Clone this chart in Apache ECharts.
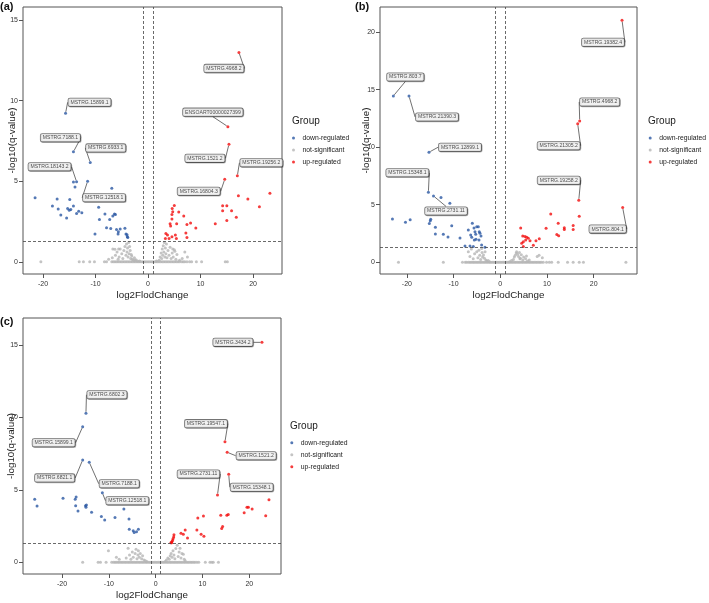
<!DOCTYPE html>
<html><head><meta charset="utf-8">
<script src="https://cdn.jsdelivr.net/npm/echarts@6/dist/echarts.min.js"></script>
<style>html,body{margin:0;padding:0;background:#fff}#c{width:709px;height:603px}</style>
</head><body><div id="c"></div>
<script>
// ---------- DATA ----------
const groups = ['down-regulated','not-significant','up-regulated'];
const xTicks = [-20,-10,0,10,20];
const aYTicks = [0,5,10,15];
const bYTicks = [0,5,10,15,20];
const cYTicks = [0,5,10,15];
const fcCut = 1;
const qCut = -Math.log10(0.05);

// panel (a)
const aDownNames = ['MSTRG.15899.1','MSTRG.7188.1','MSTRG.6933.1','MSTRG.18143.2','MSTRG.12518.1'];
const aDown = [[-15.7,9.22],[-14.2,6.83],[-11.0,6.17],[-13.6,4.97],[-11.5,5.0],
 [-14.2,4.95],[-13.9,4.64],[-6.9,4.56],[-21.5,3.98],[-17.3,3.9],[-14.9,3.86],[-18.2,3.46],[-17.1,3.27],[-16.6,2.9],
 [-15.0,3.2],[-15.3,3.3],[-14.7,3.25],[-15.5,2.72],[-14.2,3.46],[-13.6,3.0],[-13.2,3.13],[-12.6,3.05],[-9.4,3.38],
 [-9.25,2.63],[-10.1,1.72],[-8.2,2.96],[-7.9,2.11],[-7.3,2.63],[-7.1,2.06],[-6.7,2.84],[-6.4,2.97],[-6.2,2.94],
 [-6.0,2.0],[-5.65,1.86],[-5.7,1.72],[-5.3,2.04],[-4.4,2.08],[-4.2,1.73],[-4.0,1.68],[-3.95,1.55],[-3.85,1.5]];
const aUpNames = ['MSTRG.4968.2','ENSOART00000027399','MSTRG.1521.2','MSTRG.19256.2','MSTRG.16804.3'];
const aUp = [[17.3,13.0],[15.2,8.39],[15.4,7.29],[17.0,5.34],[14.6,5.12],
 [17.2,4.1],[23.2,4.25],[19.0,3.9],[14.2,3.48],[15.0,3.48],[14.2,3.17],[15.9,3.17],[21.2,3.42],[16.8,2.77],[15.0,2.56],
 [12.8,2.36],[9.1,2.09],[8.1,2.4],[7.4,2.32],[7.2,1.78],[7.4,1.5],[6.8,2.84],[5.85,3.09],[5.0,3.5],[4.6,3.3],[4.7,3.1],
 [4.55,2.94],[4.55,2.66],[5.45,2.36],[4.2,2.36],[4.3,2.22],[3.4,1.75],[3.7,1.66],[3.3,1.45],[4.0,1.45],[4.55,1.56],
 [5.2,1.66],[5.4,1.45]];
const aZeroX = [-20.4,-13.1,-12.3,-11.1,-10.2,-8.3,-7.9,-6.9,-6.6,-6.3,-6.0,-5.7,-5.4,-5.1,-4.8,-4.5,-4.2,-3.9,-3.6,-3.3,
 -3.0,-2.7,-2.4,-2.1,-1.8,-1.5,-1.2,-0.9,-0.6,-0.3,0,0.3,0.6,0.9,1.2,1.5,1.8,2.1,2.4,2.7,3.0,3.3,3.6,3.9,4.2,4.5,4.8,
 5.1,5.4,5.7,6.0,6.4,6.7,7.0,7.4,7.9,8.3,9.2,10.2,14.7,15.1];
const aCloud = [[-7.5,0.15],[-6.8,0.25],[-6.7,0.8],[-6.3,0.78],[-6.2,0.4],[-5.9,0.6],[-5.7,0.15],[-5.6,0.8],[-5.5,0.3],
 [-5.3,0.8],[-5.0,0.5],[-4.8,0.2],[-4.6,0.7],[-4.4,0.95],[-4.2,0.4],[-4.1,1.1],[-4.0,0.6],[-3.9,0.85],[-3.8,0.3],
 [-3.7,1.2],[-3.6,0.5],[-3.5,0.95],[-3.4,0.7],[-3.3,0.2],[-3.2,0.45],[-3.1,0.35],[-3.0,0.15],[-2.8,0.1],[-2.6,0.25],
 [-2.5,0.08],[-2.3,0.12],[-2.0,0.05],[-1.6,0.04],[1.6,0.05],[2.1,0.1],[2.3,0.3],[2.5,0.55],[2.6,0.2],[2.7,0.8],[2.8,0.4],
 [2.9,1.0],[3.0,0.6],[3.1,1.2],[3.2,0.3],[3.3,0.85],[3.4,0.5],[3.5,1.1],[3.6,0.25],[3.8,0.7],[4.0,0.4],[4.2,0.9],
 [4.4,0.2],[4.6,0.55],[4.7,0.8],[4.8,0.3],[5.0,0.75],[5.1,0.65],[5.3,0.15],[5.5,0.45],[6.0,0.1],[6.5,0.2],[7.0,0.6],[7.5,0.3]];

// panel (b)
const bDownNames = ['MSTRG.803.7','MSTRG.21390.3','MSTRG.12899.1','MSTRG.15348.1','MSTRG.2731.11'];
const bDown = [[-22.9,14.45],[-19.55,14.45],[-15.27,9.56],[-15.4,6.08],[-14.3,5.76],
 [-12.7,5.62],[-10.8,5.12],[-23.1,3.76],[-20.3,3.47],[-19.3,3.7],[-15.0,3.6],[-14.9,3.73],[-15.2,3.36],[-13.9,3.04],
 [-13.9,2.46],[-12.2,2.43],[-11.2,2.2],[-10.4,3.18],[-8.63,2.11],[-7.56,1.42],[-6.85,2.81],[-6.34,2.37],[-6.12,2.17],
 [-5.99,3.39],[-5.63,2.98],[-5.42,2.66],[-5.27,2.43],[-5.05,3.09],[-4.71,3.09],[-4.5,2.66],[-4.35,2.52],[-4.13,2.29],
 [-5.56,1.94],[-5.2,2.0],[-6.49,1.42],[-5.78,1.36],[-4.56,1.94],[-4.0,1.5],[-3.28,1.3]];
const bUpNames = ['MSTRG.19382.4','MSTRG.4968.2','MSTRG.21305.2','MSTRG.19258.2','MSTRG.804.1'];
const bUp = [[26.06,21.03],[17.0,12.28],[16.57,12.04],[16.8,5.39],[26.2,4.75],
 [16.9,4.0],[10.8,4.2],[12.4,3.38],[13.7,3.0],[13.7,2.85],[15.6,3.2],[15.6,2.85],[9.8,2.96],[12.1,2.42],[12.5,2.3],
 [8.35,2.05],[7.64,1.88],[7.07,1.48],[6.36,1.88],[6.0,2.08],[5.29,2.23],[5.65,2.17],[4.8,2.28],[4.37,2.98],[5.43,1.94],
 [4.93,1.79],[4.58,1.65],[4.93,1.36]];
const bZeroX = [-21.8,-12.2,-8.1,-7.5,-7.2,-6.8,-6.5,-6.2,-5.9,-5.6,-5.3,-5.0,-4.7,-4.4,-4.1,-3.8,-3.5,-3.2,-2.9,-2.6,
 -2.3,-2.0,-1.7,-1.4,-1.1,-0.8,-0.5,-0.2,0.1,0.4,0.7,1.0,1.3,1.6,1.9,2.2,2.5,2.8,3.1,3.4,3.7,4.0,4.3,4.6,4.9,5.2,5.5,
 5.8,6.1,6.4,6.7,7.0,7.3,7.6,7.9,8.2,8.5,8.8,9.2,9.9,10.5,11.0,12.4,14.4,15.6,16.9,17.8,26.9];
const bCloud = [[-6.85,0.92],[-6.5,0.5],[-6.2,1.15],[-5.8,0.3],[-5.5,0.75],[-5.05,0.92],[-4.8,0.4],[-4.6,1.05],[-4.4,0.6],
 [-4.2,0.25],[-4.0,1.2],[-3.9,0.85],[-3.8,0.45],[-3.6,0.63],[-3.4,0.34],[-3.26,0.92],[-3.1,0.2],[-2.9,0.1],[-2.6,0.15],
 [-2.3,0.05],[2.0,0.05],[2.4,0.15],[2.8,0.25],[3.0,0.45],[3.2,0.6],[3.4,0.8],[3.5,0.92],[3.7,0.7],[3.9,0.5],[4.1,0.85],
 [4.2,0.3],[4.3,0.35],[4.5,0.65],[4.8,0.2],[5.0,0.45],[5.4,0.3],[5.6,0.55],[5.8,0.1],[6.2,0.2],[7.9,0.5],[8.3,0.6],[9.0,0.4]];

// panel (c)
const cDownNames = ['MSTRG.6802.3','MSTRG.15899.1','MSTRG.6821.1','MSTRG.7188.1','MSTRG.12518.1'];
const cDown = [[-14.9,10.28],[-15.6,9.35],[-15.6,7.06],[-14.2,6.9],[-11.4,4.8],
 [-25.85,4.34],[-25.35,3.88],[-19.8,4.41],[-17.0,4.5],[-17.2,4.35],[-17.1,3.9],[-15.0,3.9],[-14.8,3.95],[-14.9,3.8],
 [-16.6,3.54],[-13.7,3.45],[-11.6,3.15],[-10.9,2.92],[-8.7,3.08],[-6.8,3.68],[-5.7,2.99],[-5.65,2.27],[-4.8,2.18],
 [-4.6,2.05],[-3.7,2.27],[-4.1,2.1]];
const cUpNames = ['MSTRG.3434.2','MSTRG.19547.1','MSTRG.1521.2','MSTRG.15348.1','MSTRG.2731.11'];
const cUp = [[22.7,15.17],[14.8,8.32],[15.27,7.59],[15.6,6.07],[13.2,4.64],
 [24.2,4.32],[19.5,3.8],[19.8,3.8],[18.9,3.42],[20.6,3.67],[23.5,3.2],[15.2,3.25],[15.5,3.3],[13.9,3.25],[14.3,2.47],
 [14.1,2.33],[10.2,3.19],[9.0,3.06],[8.8,2.22],[9.7,1.94],[10.3,1.8],[6.8,1.68],[6.3,2.22],[5.9,1.94],[5.4,2.0],
 [3.9,1.9],[3.85,1.75],[3.7,1.62],[3.6,1.5],[3.45,1.42],[3.4,1.35],[3.25,1.35]];
const cZeroX = [-15.6,-12.3,-11.8,-10.6,-9.4,-9.0,-8.7,-8.4,-8.1,-7.8,-7.5,-7.2,-6.9,-6.6,-6.3,-6.0,-5.7,-5.4,-5.1,-4.8,
 -4.5,-4.2,-3.9,-3.6,-3.3,-3.0,-2.7,-2.4,-2.1,-1.8,-1.5,-1.2,-0.9,-0.6,-0.3,0,0.3,0.6,0.9,1.2,1.5,1.8,2.1,2.4,2.7,3.0,
 3.3,3.6,3.9,4.2,4.5,4.8,5.1,5.4,5.7,6.0,6.3,6.6,6.9,7.2,7.5,7.8,8.1,8.4,8.8,9.2,10.6,11.6,12.0,12.3,13.4];
const cCloud = [[-10.1,0.8],[-8.4,0.35],[-7.8,0.2],[-6.3,0.3],[-5.9,0.96],[-5.6,0.5],[-5.3,0.2],[-5.0,0.7],[-4.8,0.35],
 [-4.4,0.6],[-4.2,0.9],[-4.0,0.25],[-3.8,0.5],[-3.7,0.8],[-3.5,0.35],[-3.3,0.6],[-3.0,0.25],[-2.8,0.45],[-2.5,0.15],
 [-2.2,0.1],[-1.9,0.05],[2.0,0.05],[2.3,0.15],[2.6,0.3],[2.9,0.2],[3.1,0.45],[3.3,0.6],[3.5,0.35],[3.7,0.8],[3.9,0.5],
 [4.1,0.25],[4.3,0.95],[4.6,1.18],[4.8,0.4],[5.0,0.7],[5.2,0.97],[5.4,0.3],[5.6,0.6],[5.9,0.55],[6.1,0.2],[6.3,0.1]];

// ---------- LAYOUT / STYLE ----------
const FONT = "'Liberation Sans Narrow','Arial Narrow','Liberation Sans',Arial,sans-serif";
const COLORS = {'down-regulated':'#2a58a2','not-significant':'#b5b5b5','up-regulated':'#f20d0d'};
const layout = {
  a:{grid:{left:23,top:7,width:259,height:267}, x:[-23.8,25.5], y:[-0.76,15.82], yTicks:aYTicks, yGap:6, tag:'(a)', tagPos:[0,1], group:[292,116], legend:[292,132]},
  b:{grid:{left:380,top:7,width:257,height:267}, x:[-25.76,29.27], y:[-1.02,22.18], yTicks:bYTicks, yGap:9, tag:'(b)', tagPos:[355,1], group:[648,116], legend:[648.7,132]},
  c:{grid:{left:23,top:318,width:258,height:256}, x:[-28.35,26.77], y:[-0.81,16.85], yTicks:cYTicks, yGap:7, tag:'(c)', tagPos:[0,316], group:[290,421], legend:[290.3,436.7]}
};
const labelOffset = {
 'a:MSTRG.15899.1':[24,-11],'a:MSTRG.7188.1':[-13,-14],'a:MSTRG.6933.1':[15.5,-14.5],'a:MSTRG.18143.2':[-27,-15],'a:MSTRG.12518.1':[16.5,16.5],
 'a:MSTRG.4968.2':[-15,16],'a:ENSOART00000027399':[-15,-14.5],'a:MSTRG.1521.2':[-24,14],'a:MSTRG.19256.2':[24,-13],'a:MSTRG.16804.3':[-26,12],
 'b:MSTRG.803.7':[12,-19],'b:MSTRG.21390.3':[28,21],'b:MSTRG.12899.1':[31,-5],'b:MSTRG.15348.1':[-21,-19.5],'b:MSTRG.2731.11':[12.5,15],
 'b:MSTRG.19382.4':[-19,22],'b:MSTRG.4968.2':[20,-19],'b:MSTRG.21305.2':[-19,22],'b:MSTRG.19258.2':[-20,-20],'b:MSTRG.804.1':[-15,21.5],
 'c:MSTRG.6802.3':[21,-18.5],'c:MSTRG.15899.1':[-29,16],'c:MSTRG.6821.1':[-28,18],'c:MSTRG.7188.1':[30,21.5],'c:MSTRG.12518.1':[25,8],
 'c:MSTRG.3434.2':[-29,0],'c:MSTRG.19547.1':[-19,-18],'c:MSTRG.1521.2':[29,3.5],'c:MSTRG.15348.1':[23,13],'c:MSTRG.2731.11':[-19,-21]
};
const panels = [
  {key:'a', down:aDown, downNames:aDownNames, up:aUp, upNames:aUpNames, zeroX:aZeroX, cloud:aCloud},
  {key:'b', down:bDown, downNames:bDownNames, up:bUp, upNames:bUpNames, zeroX:bZeroX, cloud:bCloud},
  {key:'c', down:cDown, downNames:cDownNames, up:cUp, upNames:cUpNames, zeroX:cZeroX, cloud:cCloud}
];

// ---------- BUILD ----------
const labelStyle = {
  show:false, position:'inside', formatter:'{b}', fontSize:5.1, fontFamily:FONT, color:'#222',
  backgroundColor:'#fff', borderColor:'#555', borderWidth:0.8, borderRadius:1.5, padding:[1.5,2,1,2],
  shadowColor:'rgba(0,0,0,0.35)', shadowOffsetX:0.7, shadowOffsetY:0.7, shadowBlur:0
};
function labelled(key, arr, names){
  const data = arr.map((p,i)=> i<names.length ? {value:p, name:names[i], label:{show:true}} : {value:p});
  const offs = arr.map((p,i)=> i<names.length ? labelOffset[key+':'+names[i]] : null);
  return {data, layout:function(params){ const o = offs[params.dataIndex]; return o ? {dx:o[0], dy:o[1]} : {}; }};
}
const grid=[], xAxis=[], yAxis=[], series=[], title=[], legend=[];
panels.forEach((p,i)=>{
  const L = layout[p.key];
  grid.push(Object.assign({show:true, borderColor:'#555', borderWidth:1, backgroundColor:'transparent', containLabel:false, outerBoundsMode:'none'}, L.grid));
  xAxis.push({gridIndex:i, type:'value', min:L.x[0], max:L.x[1],
    axisLine:{show:false, onZero:false}, splitLine:{show:false},
    axisTick:{show:true, length:4, lineStyle:{color:'#555', width:1}, customValues:xTicks},
    axisLabel:{customValues:xTicks, fontSize:7, color:'#333', margin:7, fontFamily:FONT},
    name:'log2FlodChange', nameLocation:'middle', nameGap:16, nameMoveOverlap:false,
    nameTextStyle:{fontSize:9.8, color:'#222', fontFamily:FONT}});
  yAxis.push({gridIndex:i, type:'value', min:L.y[0], max:L.y[1],
    axisLine:{show:false, onZero:false}, splitLine:{show:false},
    axisTick:{show:true, length:4, lineStyle:{color:'#555', width:1}, customValues:L.yTicks},
    axisLabel:{customValues:L.yTicks, fontSize:7, color:'#333', margin:5, fontFamily:FONT},
    name:'-log10(q-value)', nameLocation:'middle', nameGap:L.yGap, nameMoveOverlap:false,
    nameTextStyle:{fontSize:9.8, color:'#222', fontFamily:FONT}});
  const ns = p.zeroX.map(x=>[x,0]).concat(p.cloud);
  series.push({type:'scatter', name:'not-significant', xAxisIndex:i, yAxisIndex:i, data:ns, symbolSize:3,
    itemStyle:{color:COLORS['not-significant']}, silent:true, z:1,
    markLine:{silent:true, symbol:'none', label:{show:false}, animation:false,
      lineStyle:{type:[3,2], color:'#444', width:0.8},
      data:[{xAxis:-fcCut},{xAxis:fcCut},{yAxis:qCut}]}});
  const d = labelled(p.key, p.down, p.downNames);
  series.push({type:'scatter', name:'down-regulated', xAxisIndex:i, yAxisIndex:i, data:d.data, symbolSize:3,
    itemStyle:{color:COLORS['down-regulated']}, z:2, label:labelStyle,
    labelLine:{show:true, lineStyle:{color:'#333', width:0.7}}, labelLayout:d.layout});
  const u = labelled(p.key, p.up, p.upNames);
  series.push({type:'scatter', name:'up-regulated', xAxisIndex:i, yAxisIndex:i, data:u.data, symbolSize:3,
    itemStyle:{color:COLORS['up-regulated']}, z:2, label:labelStyle,
    labelLine:{show:true, lineStyle:{color:'#333', width:0.7}}, labelLayout:u.layout});
  title.push({text:L.tag, left:L.tagPos[0], top:L.tagPos[1], padding:0,
    textStyle:{fontSize:11, fontWeight:'bold', color:'#111', fontFamily:"'Liberation Sans',Arial,sans-serif"}});
  title.push({text:'Group', left:L.group[0], top:L.group[1], padding:0,
    textStyle:{fontSize:10, fontWeight:'normal', color:'#222', fontFamily:FONT}});
  legend.push({left:L.legend[0], top:L.legend[1], orient:'vertical', padding:0, itemGap:0,
    itemWidth:8, itemHeight:3, icon:'circle', selectedMode:false,
    textStyle:{fontSize:6.8, lineHeight:12, color:'#222', fontFamily:FONT},
    data:groups.map(g=>({name:g, itemStyle:{color:COLORS[g]}}))});
});

const chart = echarts.init(document.getElementById('c'), null, {renderer:'canvas'});
chart.setOption({animation:false, backgroundColor:'#fff', grid, xAxis, yAxis, series, title, legend});
</script>
</body></html>
